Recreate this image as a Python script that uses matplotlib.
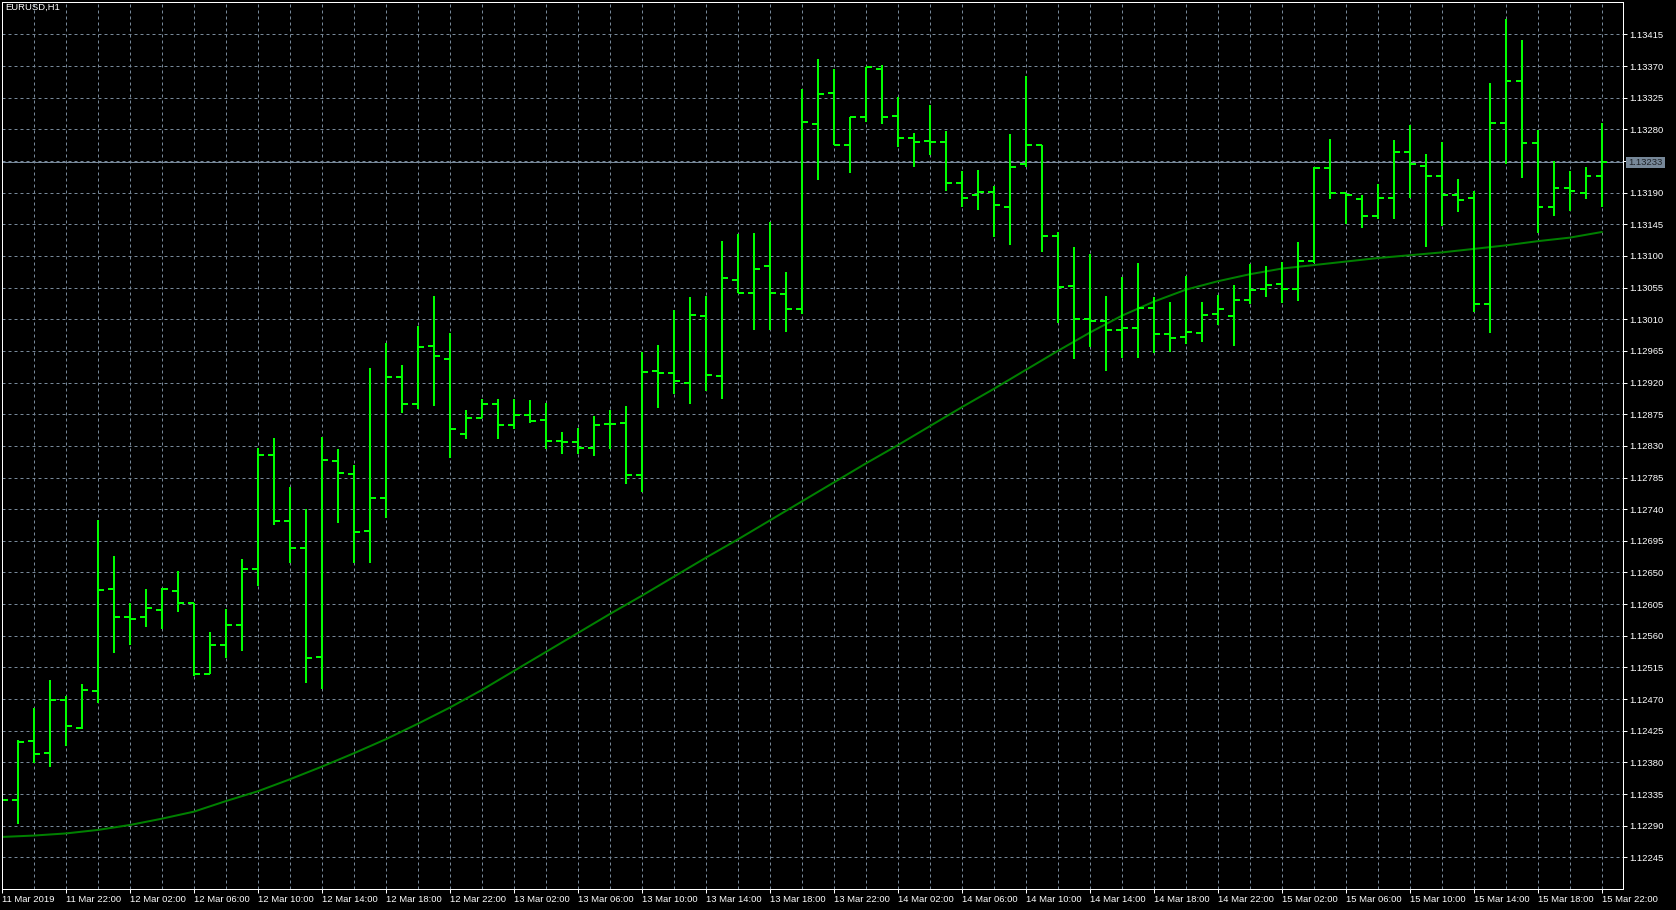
import matplotlib
matplotlib.use("Agg")
import matplotlib.pyplot as plt
import numpy as np
from matplotlib.patches import Rectangle

plt.rcParams["font.family"] = ["Liberation Sans", "DejaVu Sans"]
plt.rcParams["lines.scale_dashes"] = False

# hourly OHLC, EURUSD H1, 11 Mar 18:00 .. 15 Mar 22:00
opens = [1.12330, 1.12327, 1.12410, 1.12394, 1.12469, 1.12429, 1.12482, 1.12626, 1.12586, 1.12586,
         1.12597, 1.12624, 1.12606, 1.12506, 1.12547, 1.12575, 1.12655, 1.12817, 1.12723, 1.12685,
         1.12530, 1.12809, 1.12790, 1.12709, 1.12756, 1.12928, 1.12890, 1.12972, 1.12954, 1.12847,
         1.12870, 1.12890, 1.12859, 1.12874, 1.12867, 1.12837, 1.12836, 1.12827, 1.12861, 1.12862,
         1.12788, 1.12937, 1.12934, 1.12920, 1.13015, 1.12930, 1.13066, 1.13048, 1.13085, 1.13046,
         1.13024, 1.13288, 1.13332, 1.13258, 1.13297, 1.13366, 1.13299, 1.13268, 1.13264, 1.13262,
         1.13203, 1.13186, 1.13191, 1.13170, 1.13230, 1.13258, 1.13129, 1.13057, 1.13010, 1.13007,
         1.12994, 1.12997, 1.13026, 1.12989, 1.12985, 1.12991, 1.13018, 1.13015, 1.13038, 1.13053,
         1.13060, 1.13053, 1.13093, 1.13225, 1.13189, 1.13181, 1.13157, 1.13183, 1.13248, 1.13228,
         1.13214, 1.13186, 1.13183, 1.13031, 1.13289, 1.13348, 1.13261, 1.13169, 1.13196, 1.13189,
         1.13213]
highs = [1.12340, 1.12412, 1.12457, 1.12497, 1.12474, 1.12492, 1.12725, 1.12673, 1.12607, 1.12627,
         1.12628, 1.12652, 1.12607, 1.12565, 1.12598, 1.12669, 1.12827, 1.12841, 1.12771, 1.12740,
         1.12842, 1.12825, 1.12803, 1.12940, 1.12976, 1.12945, 1.13000, 1.13043, 1.12990, 1.12881,
         1.12896, 1.12896, 1.12896, 1.12895, 1.12891, 1.12849, 1.12855, 1.12872, 1.12881, 1.12887,
         1.12963, 1.12973, 1.13023, 1.13042, 1.13043, 1.13121, 1.13131, 1.13133, 1.13148, 1.13077,
         1.13337, 1.13380, 1.13366, 1.13298, 1.13368, 1.13371, 1.13326, 1.13275, 1.13315, 1.13278,
         1.13221, 1.13222, 1.13200, 1.13274, 1.13356, 1.13258, 1.13134, 1.13112, 1.13103, 1.13043,
         1.13070, 1.13090, 1.13041, 1.13034, 1.13071, 1.13034, 1.13045, 1.13059, 1.13089, 1.13086,
         1.13092, 1.13120, 1.13226, 1.13266, 1.13189, 1.13187, 1.13202, 1.13265, 1.13286, 1.13245,
         1.13262, 1.13209, 1.13192, 1.13346, 1.13437, 1.13407, 1.13279, 1.13235, 1.13221, 1.13227,
         1.13289]
lows = [1.12318, 1.12293, 1.12379, 1.12373, 1.12403, 1.12428, 1.12465, 1.12536, 1.12547, 1.12573,
        1.12569, 1.12594, 1.12503, 1.12506, 1.12529, 1.12539, 1.12631, 1.12718, 1.12664, 1.12493,
        1.12485, 1.12721, 1.12664, 1.12664, 1.12728, 1.12877, 1.12883, 1.12887, 1.12813, 1.12840,
        1.12869, 1.12840, 1.12854, 1.12863, 1.12826, 1.12819, 1.12819, 1.12816, 1.12826, 1.12776,
        1.12765, 1.12884, 1.12904, 1.12890, 1.12908, 1.12897, 1.13047, 1.12995, 1.12995, 1.12992,
        1.13018, 1.13208, 1.13257, 1.13218, 1.13291, 1.13287, 1.13255, 1.13226, 1.13243, 1.13193,
        1.13169, 1.13166, 1.13127, 1.13116, 1.13227, 1.13106, 1.13005, 1.12953, 1.12971, 1.12936,
        1.12955, 1.12955, 1.12962, 1.12964, 1.12975, 1.12978, 1.13002, 1.12972, 1.13032, 1.13042,
        1.13033, 1.13036, 1.13090, 1.13181, 1.13145, 1.13140, 1.13153, 1.13152, 1.13183, 1.13113,
        1.13142, 1.13162, 1.13021, 1.12991, 1.13231, 1.13211, 1.13133, 1.13157, 1.13164, 1.13181,
        1.13170]
closes = [1.12327, 1.12409, 1.12392, 1.12469, 1.12432, 1.12483, 1.12625, 1.12587, 1.12584, 1.12600,
          1.12626, 1.12606, 1.12506, 1.12547, 1.12575, 1.12655, 1.12817, 1.12723, 1.12685, 1.12529,
          1.12810, 1.12792, 1.12707, 1.12756, 1.12928, 1.12889, 1.12971, 1.12958, 1.12854, 1.12870,
          1.12890, 1.12860, 1.12874, 1.12865, 1.12837, 1.12836, 1.12827, 1.12860, 1.12861, 1.12788,
          1.12935, 1.12934, 1.12922, 1.13016, 1.12931, 1.13068, 1.13048, 1.13082, 1.13048, 1.13024,
          1.13290, 1.13330, 1.13258, 1.13298, 1.13368, 1.13298, 1.13267, 1.13262, 1.13262, 1.13203,
          1.13183, 1.13191, 1.13172, 1.13227, 1.13258, 1.13129, 1.13056, 1.13011, 1.13007, 1.12994,
          1.12997, 1.13026, 1.12989, 1.12984, 1.12992, 1.13016, 1.13024, 1.13038, 1.13052, 1.13058,
          1.13053, 1.13093, 1.13225, 1.13189, 1.13186, 1.13157, 1.13183, 1.13248, 1.13230, 1.13214,
          1.13186, 1.13180, 1.13031, 1.13289, 1.13349, 1.13260, 1.13169, 1.13197, 1.13193, 1.13213,
          1.13233]

# moving average, read at every second bar
ma_bars = list(range(0, 101, 2))
ma_vals = [1.12274, 1.12276, 1.12279, 1.12284, 1.12291, 1.12300, 1.12310, 1.12325, 1.12339, 1.12356,
           1.12374, 1.12393, 1.12413, 1.12435, 1.12458, 1.12483, 1.12510, 1.12537, 1.12564, 1.12591,
           1.12617, 1.12644, 1.12671, 1.12697, 1.12724, 1.12751, 1.12778, 1.12805, 1.12831, 1.12858,
           1.12885, 1.12911, 1.12938, 1.12965, 1.12991, 1.13015, 1.13035, 1.13052, 1.13064, 1.13074,
           1.13082, 1.13087, 1.13092, 1.13097, 1.13101, 1.13105, 1.13110, 1.13115, 1.13121, 1.13126,
           1.13134]

bid = 1.13233

price_ticks = [1.12245, 1.12290, 1.12335, 1.12380, 1.12425, 1.12470, 1.12515, 1.12560, 1.12605,
               1.12650, 1.12695, 1.12740, 1.12785, 1.12830, 1.12875, 1.12920, 1.12965, 1.13010,
               1.13055, 1.13100, 1.13145, 1.13190, 1.13235, 1.13280, 1.13325, 1.13370, 1.13415]
time_labels = ["11 Mar 2019", "11 Mar 22:00", "12 Mar 02:00", "12 Mar 06:00", "12 Mar 10:00",
               "12 Mar 14:00", "12 Mar 18:00", "12 Mar 22:00", "13 Mar 02:00", "13 Mar 06:00",
               "13 Mar 10:00", "13 Mar 14:00", "13 Mar 18:00", "13 Mar 22:00", "14 Mar 02:00",
               "14 Mar 06:00", "14 Mar 10:00", "14 Mar 14:00", "14 Mar 18:00", "14 Mar 22:00",
               "15 Mar 02:00", "15 Mar 06:00", "15 Mar 10:00", "15 Mar 14:00", "15 Mar 18:00",
               "15 Mar 22:00"]

W, H = 1676, 910
bar_col = "#00ff00"
grid_col = "#778899"
px = 0.72  # one pixel in points
fs = 6.8

fig = plt.figure(figsize=(W / 100, H / 100), dpi=100, facecolor="black")
ax = fig.add_axes([2 / W, 21 / H, 1621 / W, 887 / H], facecolor="black")

idx = np.arange(len(opens))

ax.axhline(bid, color=grid_col, lw=px, zorder=1)
ax.plot(ma_bars, ma_vals, color="#008000", lw=2 * px, zorder=2)
ax.vlines(idx, lows, highs, colors=bar_col, lw=2 * px, zorder=3)
ax.hlines(opens, idx - 0.36, idx, colors=bar_col, lw=2 * px, zorder=3)
ax.hlines(closes, idx, idx + 0.36, colors=bar_col, lw=2 * px, zorder=3)

ax.set_xlim(0.02, 101.33)
ax.set_ylim(1.12200, 1.13461)

ax.yaxis.tick_right()
ax.set_yticks(price_ticks)
# the label next to the bid price is hidden by the bid box
ax.set_yticklabels(["" if abs(p - bid) < 0.0002 else f"{p:.5f}" for p in price_ticks])
ax.set_xticks(np.arange(0, 101, 4))
ax.set_xticks(np.arange(2, 101, 4), minor=True)
ax.set_xticklabels(time_labels, ha="left")

ax.tick_params(axis="y", colors="white", length=3.5 * px, width=px, pad=2.5 * px, labelsize=fs)
ax.tick_params(axis="x", colors="white", length=4 * px, width=px, pad=1.5 * px, labelsize=fs)
ax.tick_params(axis="x", which="minor", length=0)

ax.grid(True, which="both", color=grid_col, lw=px, linestyle=(0, (3 * px, 3 * px)), zorder=0)
ax.set_axisbelow(True)
for s in ax.spines.values():
    s.set_color("white")
    s.set_linewidth(px)
    s.set_zorder(4)

# bid price label on the price scale
bh = 10.5 * (1.13461 - 1.12200) / 887
ax.add_patch(Rectangle((1 + 3 / 1621, bid - bh / 2), 39 / 1621, bh,
                       transform=ax.get_yaxis_transform(), facecolor=grid_col,
                       edgecolor="none", clip_on=False, zorder=5))
ax.text(1 + 22.5 / 1621, bid, f"{bid:.5f}", transform=ax.get_yaxis_transform(),
        ha="center", va="center", color="#1e2228", fontsize=fs, zorder=6)

fig.text(5 / W, 1 - 3 / H, "EURUSD,H1", ha="left", va="top", color="white", fontsize=fs)

fig.savefig("out.png", dpi=100, facecolor="black")
